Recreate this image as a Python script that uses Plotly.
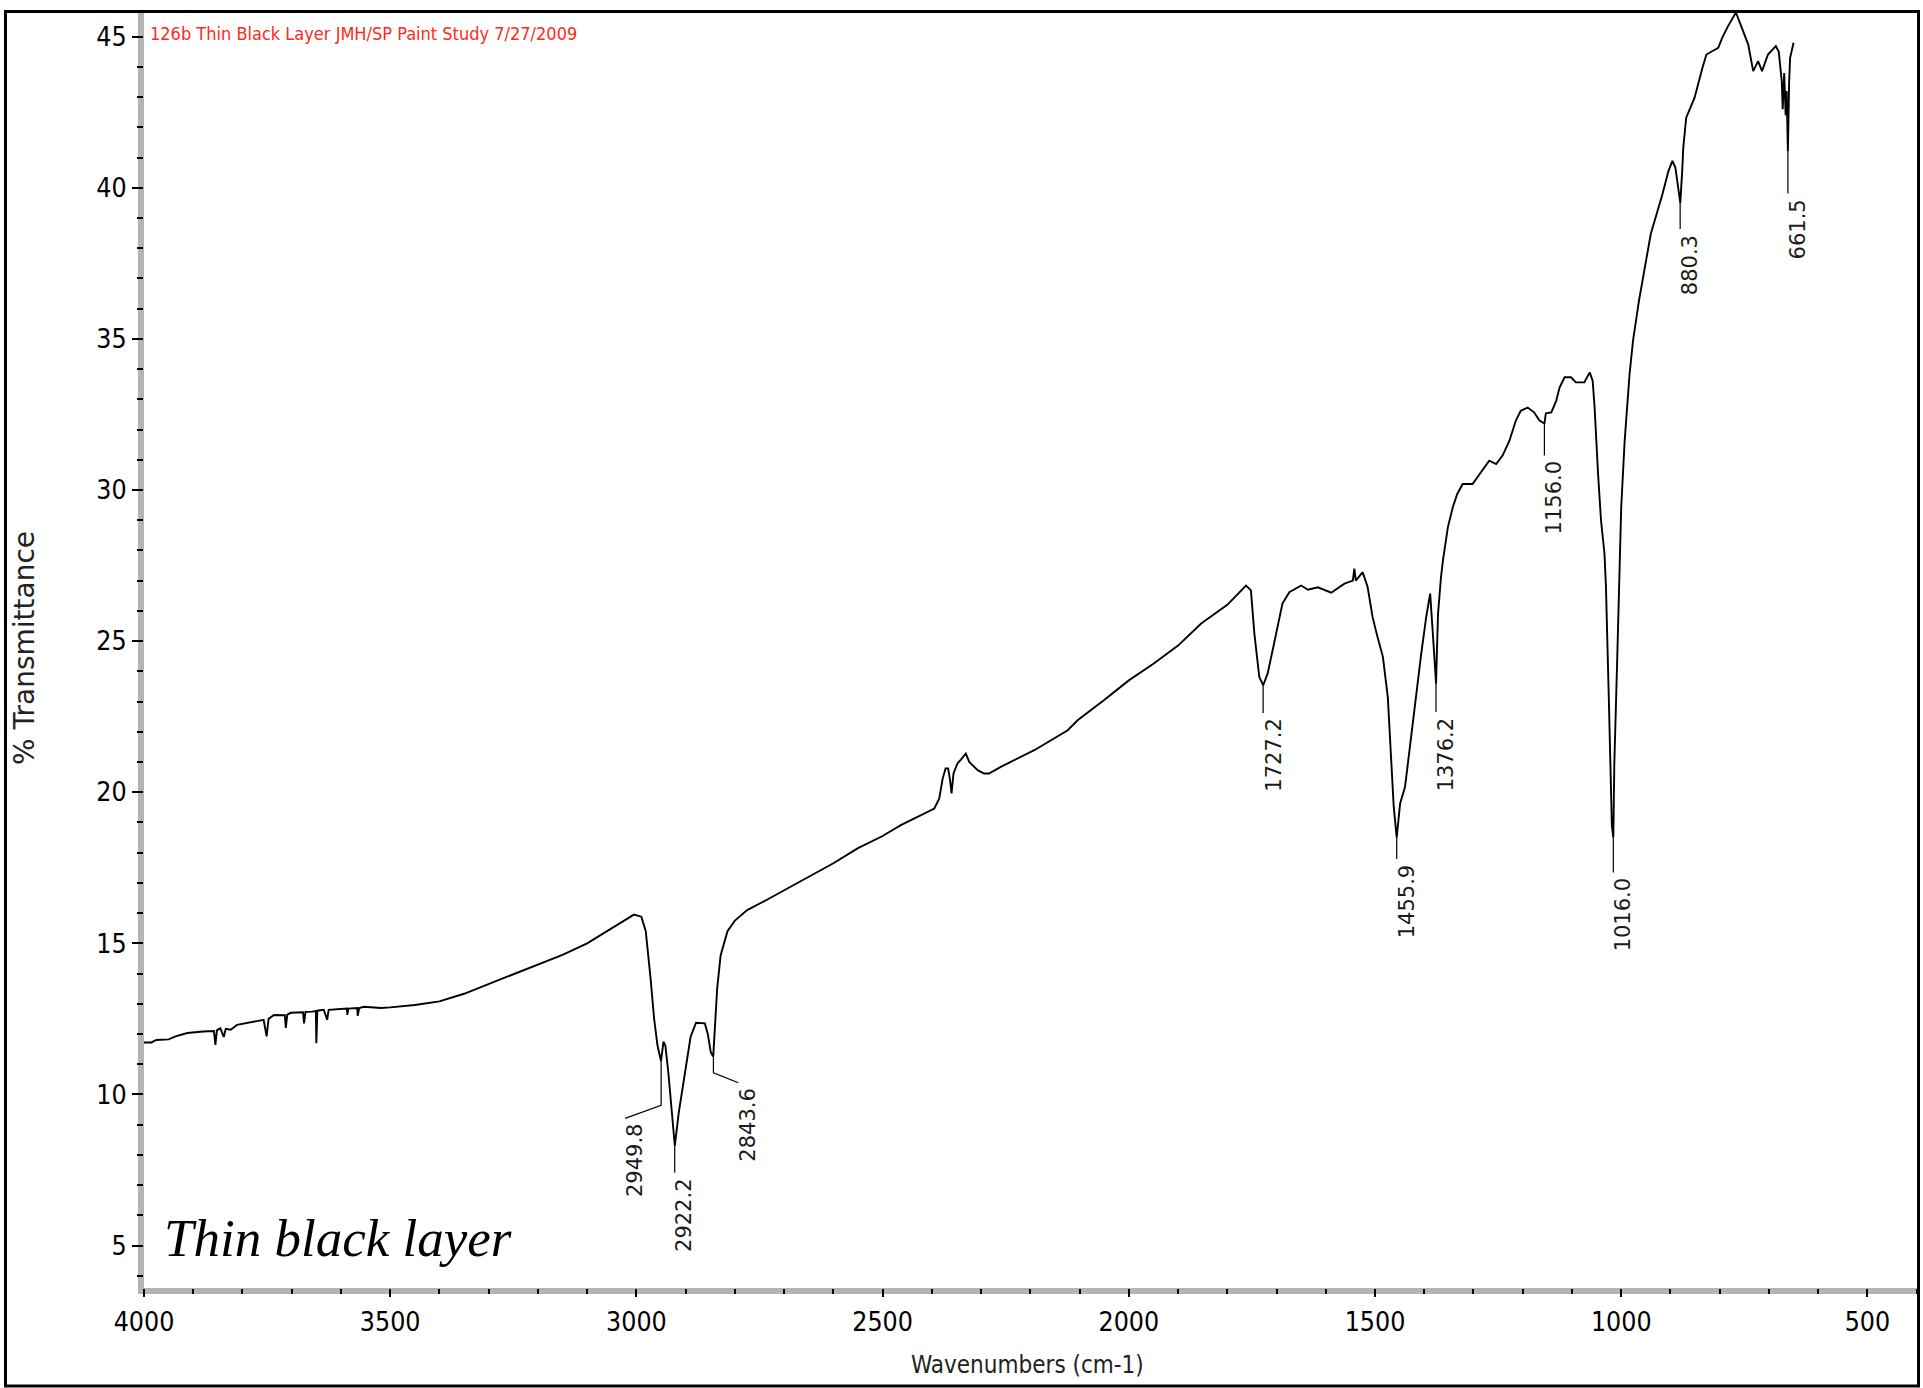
import numpy as np
import plotly.graph_objects as go

# ---------------- data ----------------
wavenumber = [
    4000, 3985, 3975, 3950, 3936, 3912, 3880, 3858, 3855, 3852, 3845, 3838, 3834, 3824, 3811,
    3784, 3757, 3751, 3747, 3736, 3714, 3712, 3709, 3702, 3677, 3675, 3672, 3658, 3651, 3650,
    3648, 3635, 3628, 3625, 3607, 3588, 3587, 3585, 3567, 3566, 3563, 3553, 3519, 3500, 3450,
    3400, 3350, 3300, 3250, 3200, 3150, 3100, 3050, 3020, 3005, 2990, 2981, 2971, 2964, 2957,
    2950, 2945, 2941, 2935, 2929, 2922, 2914, 2903, 2890, 2879, 2869, 2861, 2855, 2849, 2844,
    2840, 2836, 2829, 2815, 2800, 2775, 2734, 2673, 2600, 2550, 2500, 2463, 2420, 2395, 2385,
    2378, 2372, 2367, 2363, 2360, 2356, 2348, 2341, 2331, 2324, 2307, 2294, 2284, 2260, 2192,
    2124, 2104, 2050, 2000, 1950, 1900, 1853, 1800, 1762, 1752, 1745, 1735, 1727, 1718, 1705,
    1688, 1674, 1650, 1636, 1616, 1589, 1562, 1545, 1542, 1539, 1525, 1515, 1505, 1495, 1484,
    1474, 1467, 1462, 1456, 1449, 1439, 1427, 1417, 1406, 1396, 1388, 1383, 1376, 1374, 1372,
    1366, 1362, 1352, 1342, 1333, 1322, 1302, 1285, 1268, 1254, 1241, 1227, 1214, 1204, 1190,
    1177, 1166, 1156, 1153, 1142, 1132, 1125, 1115, 1102, 1092, 1075, 1064, 1058, 1054, 1047,
    1041, 1034, 1031, 1025, 1019, 1016, 1014, 1008, 1004, 1000, 993, 983, 976, 964, 940,
    916, 904, 896, 890, 884, 880, 876, 874, 868, 851, 835, 827, 803, 795, 783,
    767, 755, 742, 732, 722, 714, 702, 686, 680, 674, 672, 669, 666, 664, 661.5,
    659, 657, 650,
]
transmittance = [
    11.72, 11.72, 11.80, 11.82, 11.92, 12.03, 12.08, 12.10, 11.64, 12.12, 12.19, 11.90, 12.17, 12.14, 12.30,
    12.38, 12.47, 11.92, 12.50, 12.63, 12.62, 12.20, 12.64, 12.70, 12.72, 12.35, 12.73, 12.74, 12.76, 11.69,
    12.77, 12.80, 12.47, 12.80, 12.82, 12.84, 12.63, 12.84, 12.86, 12.60, 12.86, 12.90, 12.86, 12.88, 12.96,
    13.08, 13.33, 13.65, 13.97, 14.28, 14.62, 15.00, 15.50, 15.82, 15.95, 15.88, 15.40, 13.80, 12.50, 11.60,
    11.10, 11.75, 11.60, 10.70, 9.50, 8.30, 9.40, 10.60, 11.90, 12.37, 12.37, 12.35, 12.00, 11.40, 11.25,
    12.20, 13.50, 14.60, 15.40, 15.75, 16.10, 16.45, 17.00, 17.65, 18.15, 18.55, 18.91, 19.25, 19.46, 19.79,
    20.45, 20.79, 20.79, 20.40, 19.96, 20.62, 20.95, 21.08, 21.28, 21.00, 20.73, 20.62, 20.62, 20.84, 21.39,
    22.05, 22.38, 23.05, 23.70, 24.25, 24.85, 25.58, 26.20, 26.84, 26.68, 25.25, 23.81, 23.54, 23.93, 24.92,
    26.24, 26.62, 26.84, 26.70, 26.78, 26.60, 26.90, 27.00, 27.40, 27.00, 27.28, 26.79, 25.80, 25.14, 24.48,
    23.15, 21.17, 19.52, 18.50, 19.63, 20.18, 21.83, 23.15, 24.60, 25.80, 26.57, 25.36, 23.60, 24.80, 25.90,
    27.12, 27.67, 28.77, 29.43, 29.87, 30.20, 30.20, 30.59, 30.97, 30.86, 31.14, 31.63, 32.30, 32.62, 32.73,
    32.57, 32.30, 32.20, 32.54, 32.57, 32.95, 33.40, 33.73, 33.73, 33.56, 33.56, 33.89, 33.62, 32.73, 30.53,
    28.99, 27.90, 26.80, 23.00, 18.90, 18.50, 20.95, 24.48, 27.30, 29.43, 31.63, 33.84, 34.94, 36.26, 38.47,
    39.80, 40.56, 40.89, 40.67, 39.90, 39.50, 40.60, 41.33, 42.32, 42.98, 43.97, 44.41, 44.63, 44.96, 45.35,
    45.80, 45.29, 44.74, 43.86, 44.19, 43.86, 44.41, 44.69, 44.50, 43.53, 42.60, 43.80, 42.40, 43.20, 41.20,
    43.50, 44.30, 44.80,
]

peak_labels = ["2949.8", "2922.2", "2843.6", "1727.2", "1455.9",
               "1376.2", "1156.0", "1016.0", "880.3", "661.5"]

x_tick_values = [4000, 3500, 3000, 2500, 2000, 1500, 1000, 500]
y_tick_values = [5, 10, 15, 20, 25, 30, 35, 40, 45]

header_text = "126b Thin Black Layer JMH/SP Paint Study 7/27/2009"
sample_text = "Thin black layer"
x_title = "Wavenumbers (cm-1)"
y_title = "% Transmittance"

# ---------------- layout geometry / styles ----------------
# The body margin is removed in the page (post_script), so page pixel = figure pixel.
OFF = 0
W, H = 1923, 1388
PL, PR, PT, PB = 144, 1917, 12, 1288          # plot area in page pixels
ML, MT = PL - OFF, PT - OFF
MR, MB = W - (PR - OFF), H - (PB - OFF)
PW, PH = PR - PL, PB - PT
X_RANGE = [4000, 399.3]
Y_RANGE = [3.594, 45.817]
xpx = PW / (X_RANGE[0] - X_RANGE[1])      # px per cm-1
ypx = PH / (Y_RANGE[1] - Y_RANGE[0])      # px per %T

# leader line styling per peak (pixels): vertical length, diagonal dx, dy
leader_len = [45, 28, 19, 28, 22, 30, 32, 35, 27, 42]
leader_dx = [-36, 0, 25, 0, 0, 0, 0, 0, 0, 0]
leader_dy = [13, 0, 10, 0, 0, 0, 0, 0, 0, 0]

NARROW = "DejaVu Sans Condensed, Liberation Sans Narrow, Liberation Sans, sans-serif"


def px_paper_x(X):
    """page pixel x -> paper coordinate"""
    return (X - PL) / PW


def px_paper_y(Y):
    """page pixel y -> paper coordinate"""
    return (PB - Y) / PH


fig = go.Figure()

fig.add_trace(go.Scatter(
    x=wavenumber, y=transmittance, mode="lines",
    line=dict(color="black", width=1.9), hoverinfo="skip", showlegend=False,
))

# peak leader lines + labels
wn_arr = np.array(wavenumber, dtype=float)[::-1]
t_arr = np.array(transmittance, dtype=float)[::-1]
lx, ly = [], []
annotations = []
for lab, L, dx, dy in zip(peak_labels, leader_len, leader_dx, leader_dy):
    pk = float(lab)
    t0 = float(np.interp(pk, wn_arr, t_arr))
    t1 = t0 - L / ypx
    x_end = pk - dx / xpx
    t_end = t1 - dy / ypx
    lx += [pk, pk, x_end, None]
    ly += [t0, t1, t_end, None]
    annotations.append(dict(
        x=x_end - 10 / xpx, y=t_end - 4 / ypx, xref="x", yref="y",
        text=lab, showarrow=False, textangle=-90,
        xanchor="center", yanchor="top",
        font=dict(family="DejaVu Sans, sans-serif", size=21, color="#1a1a1a"),
    ))

fig.add_trace(go.Scatter(
    x=lx, y=ly, mode="lines", line=dict(color="black", width=1.2),
    hoverinfo="skip", showlegend=False,
))

# texts
annotations += [
    dict(xref="paper", yref="paper", x=px_paper_x(148), y=px_paper_y(33.5),
         xanchor="left", yanchor="middle", showarrow=False, text=header_text,
         font=dict(family=NARROW, size=18, color="#ff2a1a")),
    dict(xref="paper", yref="paper", x=px_paper_x(162), y=px_paper_y(1238),
         xanchor="left", yanchor="middle", showarrow=False, text="<i>" + sample_text + "</i>",
         font=dict(family="Liberation Serif, Times New Roman, serif", size=53, color="black")),
    dict(xref="paper", yref="paper", x=px_paper_x(24), y=px_paper_y(648),
         xanchor="center", yanchor="middle", showarrow=False, text=y_title, textangle=-90,
         font=dict(family="DejaVu Sans, sans-serif", size=28, color="#222222")),
    dict(xref="paper", yref="paper", x=px_paper_x(1027), y=px_paper_y(1365),
         xanchor="center", yanchor="middle", showarrow=False, text=x_title,
         font=dict(family=NARROW, size=24, color="#222222")),
]

shapes = [
    # grey axis bands
    dict(type="rect", xref="paper", yref="paper", layer="below",
         x0=px_paper_x(138), x1=px_paper_x(144), y0=px_paper_y(1288), y1=px_paper_y(12),
         fillcolor="#b4b4b4", line=dict(width=0)),
    dict(type="rect", xref="paper", yref="paper", layer="below",
         x0=px_paper_x(138), x1=px_paper_x(1917), y0=px_paper_y(1294), y1=px_paper_y(1288),
         fillcolor="#b4b4b4", line=dict(width=0)),
    # outer frame
    dict(type="rect", xref="paper", yref="paper", layer="above",
         x0=px_paper_x(5.5), x1=px_paper_x(1918.5), y0=px_paper_y(1386), y1=px_paper_y(11.5),
         fillcolor="rgba(0,0,0,0)", line=dict(color="black", width=3)),
]

fig.update_layout(
    width=W, height=H,
    margin=dict(l=ML, r=MR, t=MT, b=MB, pad=0),
    paper_bgcolor="white", plot_bgcolor="white",
    showlegend=False,
    annotations=annotations, shapes=shapes,
    xaxis=dict(
        range=X_RANGE, tickmode="array", tickvals=x_tick_values,
        ticktext=[str(v) for v in x_tick_values],
        ticks="outside", ticklen=8, tickwidth=2, tickcolor="black",
        minor=dict(dtick=100, tick0=0, ticks="outside", ticklen=5, tickwidth=2, tickcolor="black"),
        showline=False, showgrid=False, zeroline=False,
        tickfont=dict(family=NARROW, size=26.5, color="black"),
        ticklabelstandoff=2,
    ),
    yaxis=dict(
        range=Y_RANGE, tickmode="array", tickvals=y_tick_values,
        ticktext=[str(v) for v in y_tick_values],
        ticks="outside", ticklen=11, tickwidth=2, tickcolor="black",
        minor=dict(dtick=1, tick0=0, ticks="outside", ticklen=6, tickwidth=2, tickcolor="black"),
        showline=False, showgrid=False, zeroline=False,
        tickfont=dict(family=NARROW, size=26.5, color="black"),
        ticklabelstandoff=0,
    ),
)

fig.write_html(
    "out.html",
    config={"displayModeBar": False},
    post_script="document.body.style.margin='0px'; document.body.style.overflow='hidden';",
)
